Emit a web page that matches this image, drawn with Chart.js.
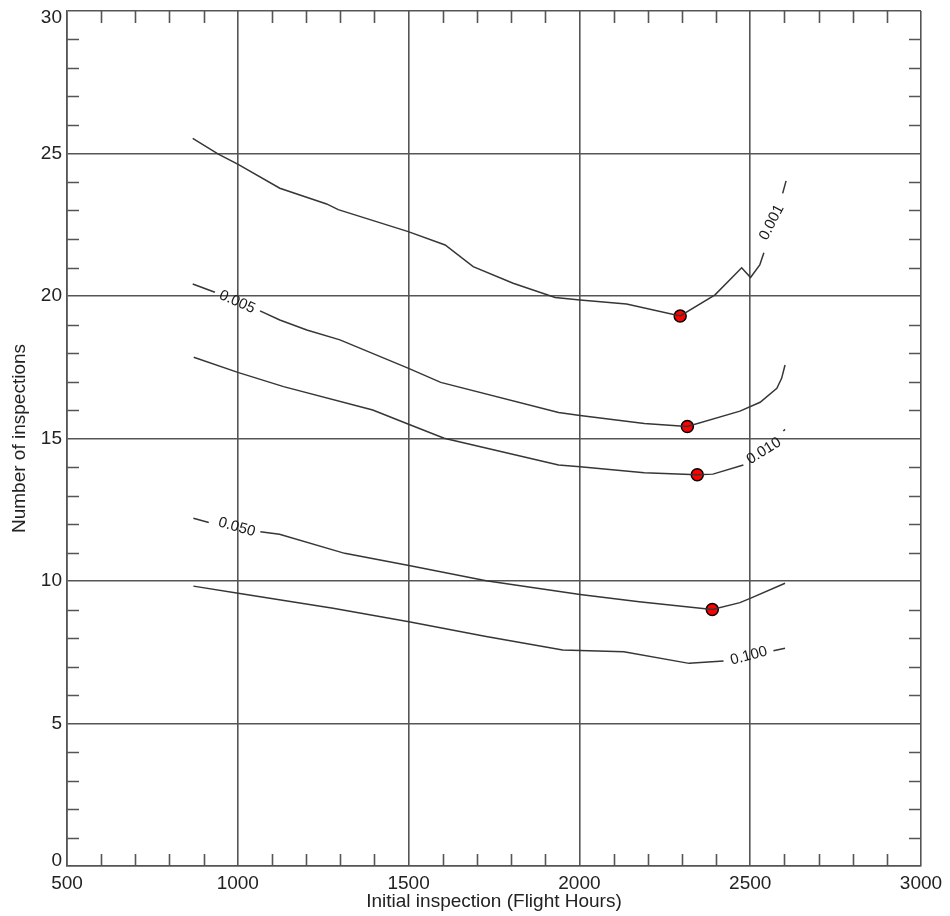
<!DOCTYPE html>
<html>
<head>
<meta charset="utf-8">
<script src="https://cdn.jsdelivr.net/npm/chart.js@4.4.1/dist/chart.umd.min.js"></script>
<style>
  html, body { margin: 0; padding: 0; background: #ffffff; }
  #wrap { width: 950px; height: 916px; position: relative; }
</style>
</head>
<body>
<div id="wrap"><canvas id="inspeccionesChart"></canvas></div>
<script>
// Ejes
const xTicks = [500, 1000, 1500, 2000, 2500, 3000];
const yTicks = [0, 5, 10, 15, 20, 25, 30];

// Curvas de nivel (null = hueco donde va la etiqueta)
const c001X = [868, 943, 1001, 1123, 1260, 1294, 1499, 1607, 1689, 1806, 1929, 2002, 2138, 2295, 2397, 2475, 2501, 2528, 2540, 2560, 2595, 2605];
const c001Y = [25.53, 24.98, 24.62, 23.78, 23.23, 23.03, 22.26, 21.79, 21.03, 20.45, 19.95, 19.86, 19.72, 19.30, 20.04, 20.99, 20.65, 21.09, 21.52, null, 23.60, 24.04];

const c005X = [868, 933, 1000, 1065, 1123, 1202, 1299, 1500, 1594, 1939, 2002, 2190, 2316, 2470, 2529, 2578, 2592, 2602];
const c005Y = [20.42, 20.13, null, 19.48, 19.16, 18.81, 18.46, 17.46, 16.97, 15.91, 15.81, 15.53, 15.42, 15.96, 16.27, 16.76, 17.11, 17.58];

const c010X = [871, 1000, 1134, 1395, 1500, 1604, 1939, 2002, 2190, 2345, 2391, 2480, 2540, 2597, 2602];
const c010Y = [17.85, 17.32, 16.82, 16.00, 15.50, 15.01, 14.07, 14.01, 13.80, 13.73, 13.75, 14.07, null, 15.26, 15.32];

const c050X = [870, 915, 1000, 1066, 1122, 1313, 1501, 1727, 2002, 2175, 2389, 2470, 2500, 2602];
const c050Y = [12.20, 12.05, null, 11.73, 11.64, 10.97, 10.54, 10.01, 9.53, 9.27, 9.00, 9.24, 9.39, 9.92];

const c100X = [870, 1001, 1279, 1501, 1727, 1951, 2130, 2321, 2422, 2500, 2568, 2602];
const c100Y = [9.82, 9.57, 9.04, 8.57, 8.05, 7.58, 7.52, 7.11, 7.19, null, 7.55, 7.64];

// Etiquetas de cada curva
const contourLabels = ['0.001', '0.005', '0.010', '0.050', '0.100'];
const labelX = [2563, 998, 2540, 997, 2496];
const labelY = [22.58, 19.79, 14.56, 11.89, 7.37];
const labelAngle = [-63, 24, -32, 16, -15];

// Mínimos de cada curva
const optX = [2295, 2316, 2345, 2389];
const optY = [19.30, 15.42, 13.73, 9.00];

const FONT = "'Liberation Sans', Arial, Helvetica, sans-serif";
const GRID = '#555555';
const INK = '#222222';

function puntos(xs, ys) {
    return xs.map((x, i) => ({ x: x, y: ys[i] }));
}

function curva(xs, ys) {
    return {
        type: 'line',
        data: puntos(xs, ys),
        borderColor: '#363636',
        borderWidth: 1.5,
        pointRadius: 0,
        tension: 0,
        spanGaps: false,
        fill: false
    };
}

// Marcas menores hacia adentro, etiquetas del eje Y y textos de las curvas
const decoracion = {
    id: 'decoracion',
    afterDatasetsDraw(chart) {
        const ctx = chart.ctx;
        const a = chart.chartArea;
        const sx = chart.scales.x;
        const sy = chart.scales.y;
        const largo = 12;

        ctx.save();
        ctx.strokeStyle = GRID;
        ctx.lineWidth = 1.6;
        ctx.beginPath();
        for (let v = 600; v < 3000; v += 100) {
            if (v % 500 === 0) continue;
            const px = Math.round(sx.getPixelForValue(v)) + 0.5;
            ctx.moveTo(px, a.bottom); ctx.lineTo(px, a.bottom - largo);
            ctx.moveTo(px, a.top); ctx.lineTo(px, a.top + largo);
        }
        for (let v = 1; v < 30; v++) {
            if (v % 5 === 0) continue;
            const py = Math.round(sy.getPixelForValue(v)) + 0.5;
            ctx.moveTo(a.left, py); ctx.lineTo(a.left + largo, py);
            ctx.moveTo(a.right, py); ctx.lineTo(a.right - largo, py);
        }
        ctx.stroke();

        // Etiquetas Y, sin salirse del marco
        ctx.fillStyle = INK;
        ctx.font = '19px ' + FONT;
        ctx.textAlign = 'right';
        ctx.textBaseline = 'middle';
        yTicks.forEach(v => {
            let py = sy.getPixelForValue(v);
            py = Math.min(Math.max(py, a.top + 7), a.bottom - 5);
            ctx.fillText(String(v), a.left - 5, py);
        });

        // Textos de las curvas
        ctx.font = '15px ' + FONT;
        ctx.textAlign = 'center';
        ctx.fillStyle = '#1a1a1a';
        contourLabels.forEach((t, i) => {
            ctx.save();
            ctx.translate(sx.getPixelForValue(labelX[i]), sy.getPixelForValue(labelY[i]));
            ctx.rotate(labelAngle[i] * Math.PI / 180);
            ctx.fillText(t, 0, 0);
            ctx.restore();
        });
        ctx.restore();
    }
};

const ctx = document.getElementById('inspeccionesChart');

new Chart(ctx, {
    data: {
        datasets: [
            curva(c001X, c001Y),
            curva(c005X, c005Y),
            curva(c010X, c010Y),
            curva(c050X, c050Y),
            curva(c100X, c100Y),
            {
                type: 'scatter',
                data: puntos(optX, optY),
                pointRadius: 6,
                pointBackgroundColor: '#ff0000',
                pointBorderColor: '#000000',
                pointBorderWidth: 1.5
            }
        ]
    },
    options: {
        responsive: true,
        maintainAspectRatio: false,
        animation: false,
        layout: { padding: { top: 11, right: 29, bottom: 0, left: 0 } },
        plugins: {
            legend: { display: false },
            tooltip: { enabled: false }
        },
        scales: {
            x: {
                type: 'linear',
                min: xTicks[0],
                max: xTicks[xTicks.length - 1],
                afterBuildTicks: (s) => { s.ticks = xTicks.map(v => ({ value: v })); },
                afterFit: (s) => { s.height = 50; },
                grid: { color: GRID, lineWidth: 1.6, drawTicks: false },
                border: { display: true, color: GRID, width: 1.6 },
                ticks: {
                    color: INK,
                    padding: 6,
                    maxRotation: 0,
                    callback: (v) => String(v),
                    font: { size: 19, family: FONT }
                },
                title: {
                    display: true,
                    text: 'Initial inspection (Flight Hours)',
                    color: INK,
                    padding: { top: 0, bottom: 3 },
                    font: { size: 19, family: FONT }
                }
            },
            y: {
                type: 'linear',
                min: yTicks[0],
                max: yTicks[yTicks.length - 1],
                afterBuildTicks: (s) => { s.ticks = yTicks.map(v => ({ value: v })); },
                afterFit: (s) => { s.width = 67; },
                grid: { color: GRID, lineWidth: 1.6, drawTicks: false },
                border: { display: true, color: GRID, width: 1.6 },
                ticks: { display: false },
                title: {
                    display: true,
                    text: 'Number of inspections',
                    color: INK,
                    padding: { top: 8, bottom: 0 },
                    font: { size: 19, family: FONT }
                }
            }
        }
    },
    plugins: [decoracion]
});
</script>
</body>
</html>
